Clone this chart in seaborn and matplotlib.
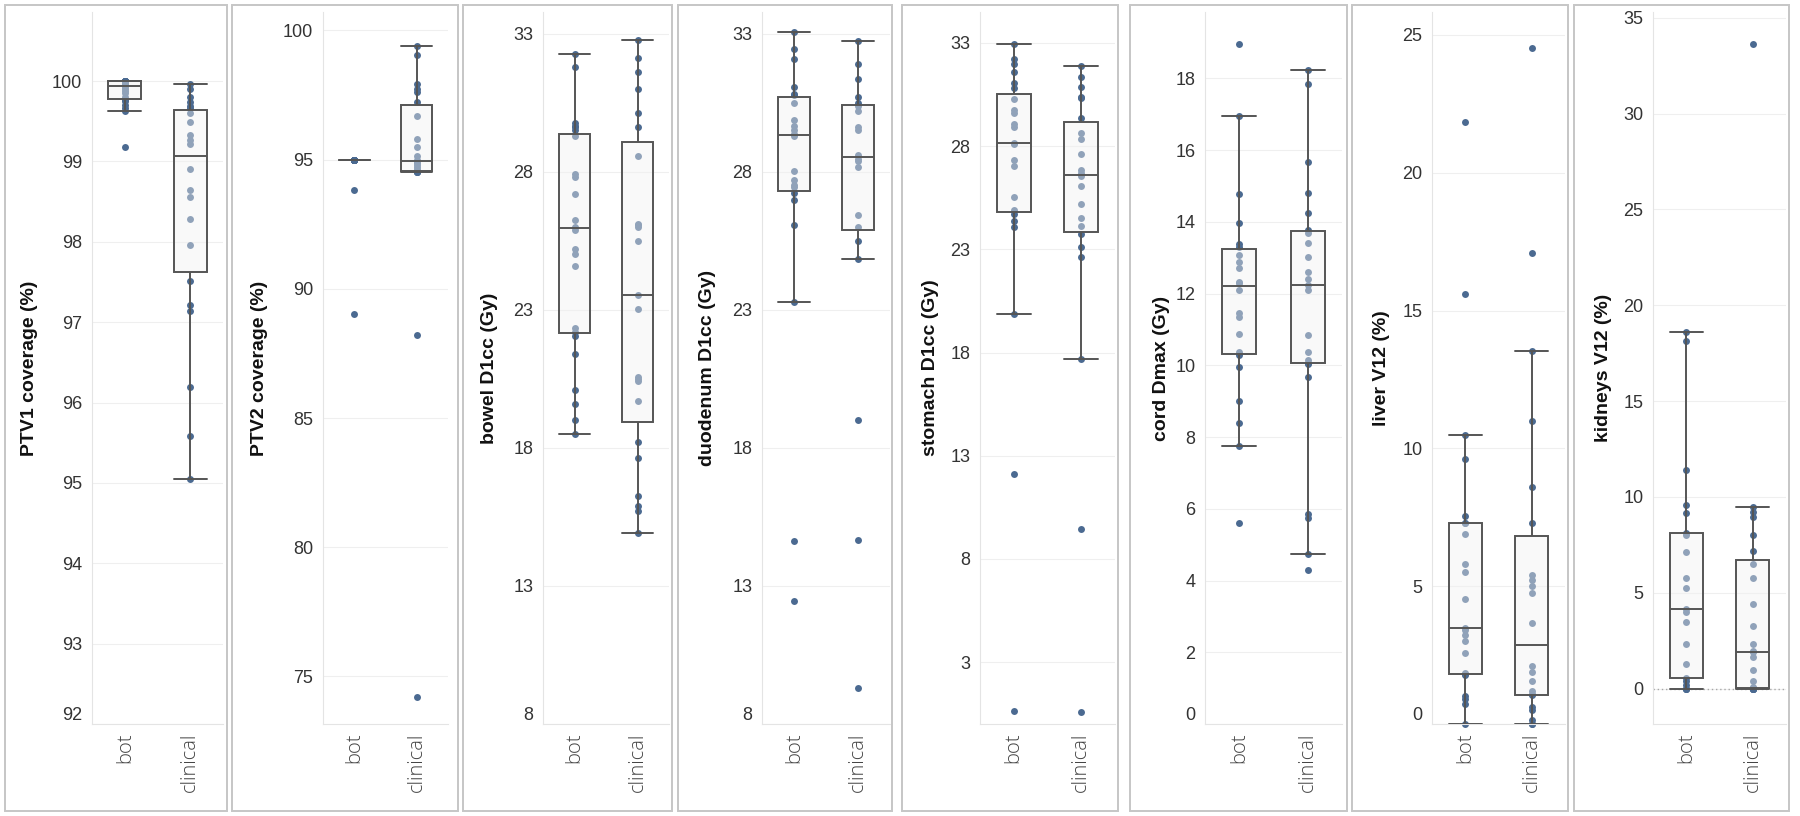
import matplotlib
matplotlib.use("Agg")
import matplotlib.pyplot as plt
from matplotlib.patches import Rectangle
from matplotlib.transforms import blended_transform_factory
import pandas as pd
import seaborn as sns

# ---- data (one list per group and metric) ----
groups = ["bot", "clinical"]

ptv1_bot = [100, 100, 100, 100, 100, 100, 100, 100, 99.98, 99.96, 99.95, 99.93,
            99.9, 99.88, 99.85, 99.8, 99.77, 99.75, 99.7, 99.66, 99.63, 99.18]
ptv1_clinical = [99.97, 99.9, 99.8, 99.74, 99.69, 99.66, 99.6, 99.49, 99.33, 99.27, 99.22,
                 98.91, 98.64, 98.56, 98.29, 97.96, 97.51, 97.21, 97.14, 96.19, 95.58, 95.05]

ptv2_bot = [95.0, 95.0, 95.0, 95.0, 95.0, 95.0, 95.0, 95.0, 95.0, 95.0, 95.0,
            95.0, 95.0, 95.0, 95.0, 95.0, 95.0, 95.0, 95.0, 95.0, 93.81, 89.03]
ptv2_clinical = [99.39, 99.05, 97.94, 97.73, 97.61, 97.23, 96.68, 95.81, 95.49, 95.14, 95.0,
                 94.9, 94.85, 94.8, 94.7, 94.64, 94.54, 94.53, 94.53, 94.53, 88.2, 74.19]

bowel_bot = [32.26, 31.8, 29.75, 29.65, 29.6, 29.5, 29.3, 27.9, 27.8, 27.2, 26.25, 26.0,
             25.9, 25.2, 25.0, 24.6, 22.35, 22.2, 22.05, 21.4, 20.1, 19.6, 19.0, 18.5]
bowel_clinical = [32.77, 32.13, 31.6, 31.0, 30.14, 29.61, 28.57, 26.1, 26.05, 26.0, 25.5, 23.55,
                  23.02, 20.56, 20.5, 20.42, 19.7, 18.2, 17.62, 16.26, 15.88, 15.73, 14.93]

duodenum_bot = [33.06, 32.45, 32.07, 31.07, 30.8, 30.78, 30.5, 29.86, 29.65, 29.5, 29.36,
                29.3, 28.04, 27.68, 27.5, 27.43, 27.24, 26.99, 26.05, 23.27, 14.61, 12.47]
duodenum_clinical = [32.73, 31.88, 31.35, 30.71, 30.5, 30.37, 30.18, 29.61, 29.5, 28.61,
                     28.45, 28.38, 28.15, 26.43, 26.0, 25.5, 24.84, 19.0, 14.65, 9.31]

stomach_bot = [32.97, 32.22, 31.96, 31.58, 31.08, 30.8, 30.27, 29.76, 29.63, 29.05, 28.92, 28.15,
               28.1, 27.35, 27.05, 25.53, 24.9, 24.7, 24.39, 24.06, 19.89, 12.09, 0.65]
stomach_clinical = [31.86, 31.35, 30.85, 30.39, 30.35, 29.38, 28.62, 28.37, 27.61, 26.85, 26.7,
                    26.54, 26.09, 25.2, 24.52, 24.14, 23.73, 23.1, 22.62, 17.68, 9.43, 0.57]

cord_bot = [18.97, 16.94, 14.77, 13.96, 13.37, 13.3, 13.08, 12.87, 12.72, 12.33, 12.3,
            12.11, 11.45, 11.35, 10.87, 10.36, 10.3, 9.96, 9.01, 8.4, 7.75, 5.61]
cord_clinical = [18.22, 17.83, 15.67, 14.8, 14.25, 13.78, 13.7, 13.42, 13.03, 12.59, 12.4, 12.25,
                 12.11, 10.84, 10.36, 10.15, 10.07, 10.05, 9.68, 5.85, 5.74, 4.73, 4.28]

liver_bot = [21.84, 15.6, 10.49, 9.6, 7.55, 7.3, 7.3, 6.89, 5.81, 5.5, 4.55, 3.47,
             3.42, 3.23, 3.0, 2.58, 1.85, 1.8, 1.77, 1.0, 0.9, 0.72, 0.0]
liver_clinical = [24.54, 17.1, 13.53, 11.0, 8.6, 7.3, 5.41, 5.24, 4.99, 4.74, 3.66,
                  2.09, 1.9, 1.57, 1.2, 1.1, 1.04, 0.63, 0.5, 0.15, 0.0, 0.0]

kidneys_bot = [18.61, 18.13, 11.41, 9.57, 9.18, 8.1, 8.0, 7.12, 5.79, 5.24, 4.13,
               4.0, 3.48, 2.31, 1.28, 0.54, 0.41, 0.2, 0.0, 0.0, 0.0]
kidneys_clinical = [33.61, 9.46, 9.2, 8.97, 8.02, 7.2, 6.52, 5.79, 4.4, 3.26, 2.31, 1.96,
                    1.9, 1.63, 0.95, 0.41, 0.1, 0.05, 0.02, 0.0, 0.0, 0.0, 0.0, 0.0]

labels = ["PTV1 coverage (%)", "PTV2 coverage (%)", "bowel D1cc (Gy)", "duodenum D1cc (Gy)",
          "stomach D1cc (Gy)", "cord Dmax (Gy)", "liver V12 (%)", "kidneys V12 (%)"]
series = [(ptv1_bot, ptv1_clinical), (ptv2_bot, ptv2_clinical), (bowel_bot, bowel_clinical),
          (duodenum_bot, duodenum_clinical), (stomach_bot, stomach_clinical),
          (cord_bot, cord_clinical), (liver_bot, liver_clinical), (kidneys_bot, kidneys_clinical)]
yticks = [list(range(92, 101)), list(range(75, 101, 5)), list(range(8, 34, 5)),
          list(range(8, 34, 5)), list(range(3, 34, 5)), list(range(0, 19, 2)),
          list(range(0, 26, 5)), list(range(0, 36, 5))]

# ---- layout (pixels in the 1800x816 canvas) ----
W, H = 1800, 816
PLOT_TOP, PLOT_BOTTOM = 12, 724
borders = [(5, 227), (232, 458), (463, 672), (678, 892), (902, 1118),
           (1130, 1347), (1352, 1568), (1574, 1789)]
plot_x = [(92, 223), (323, 448), (543, 669), (762, 890), (980, 1115),
          (1205, 1342), (1432, 1565), (1653, 1786)]
label_x = [30, 260, 489, 707, 930, 1162, 1382, 1603]
ylims = [(92, 100.86), (73.16, 100.71), (8, 33.78), (8, 33.78), (0, 34.5),
         (0, 19.85), (0, 25.83), (-1.85, 35.3)]

DOT = "#4b6a91"
LINE = "#555555"

sns.set_style("white")
plt.rcParams["font.family"] = ["Liberation Sans", "DejaVu Sans"]

fig = plt.figure(figsize=(W / 100, H / 100), dpi=100)

for i, (label, (bot, clin)) in enumerate(zip(labels, series)):
    # panel frame
    bx0, bx1 = borders[i]
    fig.add_artist(Rectangle((bx0 / W, 1 - 811 / H), (bx1 - bx0) / W, (811 - 5) / H,
                             transform=fig.transFigure, fill=False,
                             edgecolor="#c6c6c6", linewidth=1.4))

    x0, x1 = plot_x[i]
    ax = fig.add_axes([x0 / W, 1 - PLOT_BOTTOM / H, (x1 - x0) / W,
                       (PLOT_BOTTOM - PLOT_TOP) / H])

    df = pd.DataFrame({"group": ["bot"] * len(bot) + ["clinical"] * len(clin),
                       "value": bot + clin})

    sns.stripplot(data=df, x="group", y="value", order=groups, jitter=False,
                  color=DOT, size=5, linewidth=0, ax=ax)
    sns.boxplot(data=df, x="group", y="value", order=groups, width=0.5, whis=1.5,
                showfliers=False, color="#f2f2f2", linecolor=LINE, linewidth=1.4, ax=ax)

    # translucent box fill so the marks inside look paler, as in the original
    for p in ax.patches:
        p.set_facecolor((0.95, 0.95, 0.95, 0.42))
        p.set_edgecolor(LINE)
        p.set_zorder(3)
    for ln in ax.lines:
        ln.set_zorder(4)
        xd, yd = ln.get_xdata(), ln.get_ydata()
        # widen caps to the box width
        if len(xd) == 2 and yd[0] == yd[1]:
            w = abs(xd[1] - xd[0])
            if w < 0.49:
                c = (xd[0] + xd[1]) / 2
                ln.set_xdata([c - 0.25, c + 0.25])
    for coll in ax.collections:
        coll.set_zorder(2)
        coll.set_clip_on(False)

    if i == 7:
        ax.axhline(0, color="#a8a8a8", linestyle=(0, (1, 2)), linewidth=1.0, zorder=1)

    ax.set_xlim(-0.5, 1.5)
    ax.set_ylim(*ylims[i])
    ax.set_yticks(yticks[i])
    ax.set_axisbelow(True)
    ax.yaxis.grid(True, color="#efefef", linewidth=0.8)
    ax.xaxis.grid(False)
    for side in ["top", "right"]:
        ax.spines[side].set_visible(False)
    for side in ["left", "bottom"]:
        ax.spines[side].set_color("#e4e4e4")
        ax.spines[side].set_linewidth(0.8)

    ax.tick_params(axis="y", length=0, pad=7, labelsize=13, labelcolor="#333333")
    ax.tick_params(axis="x", length=0, pad=6)
    ax.set_xticks([0, 1])
    ax.set_xticklabels(groups, rotation=90, va="top", ha="center", fontsize=14.5,
                       color="#444444", fontweight="light",
                       family=["Open Sans", "DejaVu Sans"])
    # bottom tick label sits inside the plot, like Tableau does
    for t, lbl in zip(yticks[i], ax.get_yticklabels()):
        if t == ylims[i][0]:
            lbl.set_va("bottom")

    ax.set_xlabel("")
    ax.set_ylabel(label, fontsize=14, fontweight="bold", color="#111111")
    ax.yaxis.label.set_va("center")
    ax.yaxis.set_label_coords(label_x[i] / W, 0.5,
                              transform=blended_transform_factory(fig.transFigure, ax.transAxes))

fig.savefig("out.png", dpi=100)
